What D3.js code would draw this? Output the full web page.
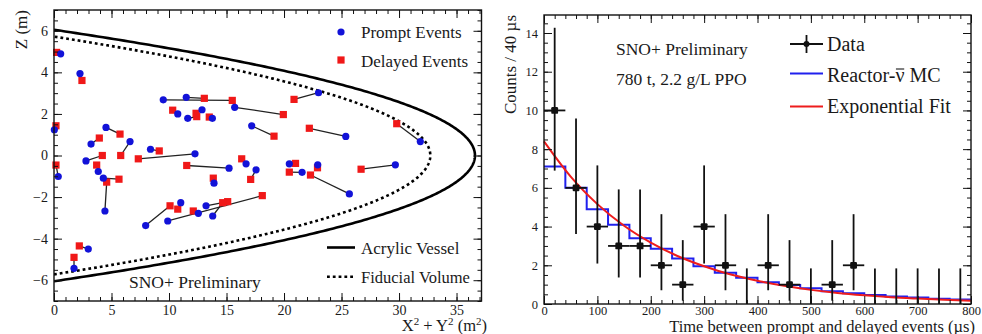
<!DOCTYPE html>
<html><head><meta charset="utf-8">
<script src="https://cdn.jsdelivr.net/npm/d3@7"></script>
<style>
body{margin:0;background:#fff}
text{font-family:"Liberation Serif","Times New Roman",serif;fill:#1a1a1a}
</style>
</head><body>
<svg id="c" width="982" height="334"></svg>
<script>
// ---------- Left panel data: prompt/delayed pairs (rho^2 in m^2, Z in m) ----------
const promptRho2 = [0.58,2.26,0.03,9.50,11.50,10.76,11.63,12.87,13.77,15.71,17.19,23.00,25.37,31.85,16.70,17.57,20.46,21.57,22.93,25.68,29.68,0.37,2.78,3.85,4.29,4.43,6.61,12.26,8.39,15.22,7.97,11.02,9.89,12.55,13.22,13.80,13.91,1.74,2.98,3.22,4.52];
const promptZ    = [4.89,3.94,1.24,2.68,2.80,2.00,1.79,2.20,1.79,2.32,1.43,3.02,0.92,0.67,-0.40,-0.69,-0.40,-0.81,-0.45,-1.85,-0.45,-1.01,-0.26,-0.77,-1.09,-2.67,0.67,0.08,0.30,-0.61,-3.37,-2.27,-3.15,-2.78,-2.42,-2.91,-1.33,-5.43,-4.50,0.55,1.35];
const delayedRho2= [0.23,2.43,0.17,15.50,13.07,10.32,12.41,12.35,13.50,19.94,19.13,20.87,22.20,29.80,16.32,17.10,21.00,20.46,22.91,22.30,26.70,0.17,4.20,3.71,5.65,4.58,5.80,7.33,9.15,11.54,10.09,10.76,18.11,12.11,15.10,14.67,13.85,1.74,2.20,3.94,5.74];
const delayedZ   = [4.96,3.61,1.43,2.65,2.75,2.18,1.87,2.03,1.85,1.97,0.93,2.70,1.31,1.53,-0.16,-1.15,-0.38,-0.80,-0.59,-0.94,-0.66,-0.46,0.00,-0.46,-1.14,-1.28,0.00,-0.16,0.22,-0.48,-2.42,-2.58,-1.93,-2.67,-2.22,-2.27,-1.09,-4.90,-4.35,0.84,1.03];
const vesselRadii = [6.05, 5.72]; // acrylic vessel, fiducial volume (m)
const leftXTicks = [0,5,10,15,20,25,30,35];
const leftYTicks = [-6,-4,-2,0,2,4,6];

// ---------- Right panel data ----------
const binCenters = [20,60,100,140,180,220,260,300,340,380,420,460,500,540,580,620,660,700,740,780];
const dataCounts = [10,6,4,3,3,2,1,4,2,0,2,1,0,1,2,0,0,0,0,0];
const dataHigh   = [14.27,9.58,7.16,5.92,5.92,4.64,3.30,7.16,4.64,1.84,4.64,3.30,1.84,3.30,4.64,1.84,1.84,1.84,1.84,1.84];
const dataLow    = [6.89,3.62,2.09,1.37,1.37,0.71,0.17,2.09,0.71,0,0.71,0.17,0,0.17,0.71,0,0,0,0,0];
const mcCounts   = [7.1,6.0,4.9,4.1,3.4,2.85,2.35,1.95,1.62,1.35,1.12,0.98,0.82,0.66,0.56,0.47,0.39,0.33,0.27,0.23];
const fitTimes   = [0,50,100,150,200,250,300,350,400,450,500,550,600,650,700,750,800];
const fitValues  = [8.40,6.58,5.16,4.04,3.17,2.48,1.95,1.52,1.20,0.94,0.73,0.57,0.45,0.35,0.28,0.22,0.17];
const rightXTicks = [0,100,200,300,400,500,600,700,800];
const rightYTicks = [0,2,4,6,8,10,12,14];
const binWidth = 40;

const svg = d3.select("#c");

function frame(g, x, y, xMajor, xMinor, yMajor, yMinor, fs, padX) {
  const [xl, xr] = x.range(); const [yb, yt] = y.range();
  const st = sel => { sel.attr("font-family",null); sel.select(".domain").remove(); sel.selectAll("line").attr("stroke","#111").attr("stroke-width",1); sel.selectAll("text").attr("font-size",fs).attr("fill","#1a1a1a"); };
  g.append("g").attr("transform",`translate(0,${yb})`).call(d3.axisBottom(x).tickValues(xMajor).tickSize(-8).tickPadding(padX).tickFormat(d3.format("d"))).call(st);
  g.append("g").attr("transform",`translate(0,${yb})`).call(d3.axisBottom(x).tickValues(xMinor).tickSize(-4).tickFormat("")).call(st);
  g.append("g").attr("transform",`translate(0,${yt})`).call(d3.axisTop(x).tickValues(xMajor).tickSize(-8).tickFormat("")).call(st);
  g.append("g").attr("transform",`translate(0,${yt})`).call(d3.axisTop(x).tickValues(xMinor).tickSize(-4).tickFormat("")).call(st);
  g.append("g").attr("transform",`translate(${xl},0)`).call(d3.axisLeft(y).tickValues(yMajor).tickSize(-8).tickPadding(6).tickFormat(d3.format("d"))).call(st);
  g.append("g").attr("transform",`translate(${xl},0)`).call(d3.axisLeft(y).tickValues(yMinor).tickSize(-4).tickFormat("")).call(st);
  g.append("g").attr("transform",`translate(${xr},0)`).call(d3.axisRight(y).tickValues(yMajor).tickSize(-8).tickFormat("")).call(st);
  g.append("g").attr("transform",`translate(${xr},0)`).call(d3.axisRight(y).tickValues(yMinor).tickSize(-4).tickFormat("")).call(st);
  g.append("rect").attr("x",xl).attr("y",yt).attr("width",xr-xl).attr("height",yb-yt).attr("fill","none").attr("stroke","#111").attr("stroke-width",1.4);
}

// =================== LEFT PANEL ===================
const xL = d3.scaleLinear().domain([0,37.17]).range([54,481.5]);
const yL = d3.scaleLinear().domain([-7,7]).range([301,10]);
const gL = svg.append("g");
svg.append("clipPath").attr("id","clipL").append("rect").attr("x",54).attr("y",10).attr("width",427.5).attr("height",291);

const lineL = d3.line().x(d=>xL(d[0])).y(d=>yL(d[1]));
vesselRadii.forEach((R,i)=>{
  const pts = [];
  const n = 300;
  for (let k=0;k<=n;k++){ const z = -R + 2*R*k/n; pts.push([Math.max(0,R*R-z*z), z]); }
  gL.append("path").attr("clip-path","url(#clipL)").attr("d",lineL(pts)).attr("fill","none")
    .attr("stroke","#000").attr("stroke-width",2.6).attr("stroke-dasharray", i===1 ? "2.8,3" : null);
});

const pairs = promptRho2.map((v,i)=>({px:v,pz:promptZ[i],dx:delayedRho2[i],dz:delayedZ[i]}));
gL.append("g").selectAll("line").data(pairs).join("line")
  .attr("x1",d=>xL(d.px)).attr("y1",d=>yL(d.pz)).attr("x2",d=>xL(d.dx)).attr("y2",d=>yL(d.dz))
  .attr("stroke","#222").attr("stroke-width",1.3);
gL.append("g").selectAll("rect").data(pairs).join("rect")
  .attr("x",d=>xL(d.dx)-3.6).attr("y",d=>yL(d.dz)-3.6).attr("width",7.2).attr("height",7.2).attr("fill","#f01818");
gL.append("g").selectAll("circle").data(pairs).join("circle")
  .attr("cx",d=>xL(d.px)).attr("cy",d=>yL(d.pz)).attr("r",3.6).attr("fill","#1212d8");

frame(gL, xL, yL, leftXTicks, d3.range(0,37.1,1), leftYTicks, d3.range(-7,7.01,0.5), 14, 4);

// legends
gL.append("circle").attr("cx",341).attr("cy",32).attr("r",3.6).attr("fill","#1212d8");
gL.append("text").attr("x",361).attr("y",38).attr("font-size",17).text("Prompt Events");
gL.append("rect").attr("x",337.4).attr("y",56.4).attr("width",7.2).attr("height",7.2).attr("fill","#f01818");
gL.append("text").attr("x",361).attr("y",67).attr("font-size",17).text("Delayed Events");
gL.append("line").attr("x1",327).attr("x2",355).attr("y1",247.5).attr("y2",247.5).attr("stroke","#000").attr("stroke-width",2.6);
gL.append("text").attr("x",361).attr("y",254).attr("font-size",17).text("Acrylic Vessel");
gL.append("line").attr("x1",327).attr("x2",355).attr("y1",276.7).attr("y2",276.7).attr("stroke","#000").attr("stroke-width",2.6).attr("stroke-dasharray","2.8,3");
gL.append("text").attr("x",361).attr("y",283).attr("font-size",16.5).text("Fiducial Volume");
gL.append("text").attr("x",129).attr("y",288).attr("font-size",17.5).text("SNO+ Preliminary");

// axis titles
const xt = gL.append("text").attr("x",487).attr("y",331).attr("text-anchor","end").attr("font-size",16.5);
xt.append("tspan").text("X");
xt.append("tspan").attr("dy",-6).attr("font-size",11).text("2");
xt.append("tspan").attr("dy",6).text(" + Y");
xt.append("tspan").attr("dy",-6).attr("font-size",11).text("2");
xt.append("tspan").attr("dy",6).text(" (m");
xt.append("tspan").attr("dy",-6).attr("font-size",11).text("2");
xt.append("tspan").attr("dy",6).text(")");
gL.append("text").attr("transform","translate(26.5,10) rotate(-90)").attr("text-anchor","end").attr("font-size",17).text("Z (m)");

// =================== RIGHT PANEL ===================
const xR = d3.scaleLinear().domain([0,800]).range([544,971]);
const yR = d3.scaleLinear().domain([0,14.93]).range([304,15]);
const gR = svg.append("g");

// MC histogram (steps)
const mcPts = [];
binCenters.forEach((c,i)=>{ mcPts.push([c-binWidth/2, mcCounts[i]]); mcPts.push([c+binWidth/2, mcCounts[i]]); });
gR.append("path").attr("d", d3.line().x(d=>xR(d[0])).y(d=>yR(d[1]))(mcPts))
  .attr("fill","none").attr("stroke","#2020ee").attr("stroke-width",2);
// exponential fit
gR.append("path").attr("d", d3.line().curve(d3.curveMonotoneX).x((d,i)=>xR(fitTimes[i])).y(d=>yR(d))(fitValues))
  .attr("fill","none").attr("stroke","#ee1c1c").attr("stroke-width",2);

// data
const dat = binCenters.map((c,i)=>({c, n:dataCounts[i], hi:dataHigh[i], lo:dataLow[i]}));
const gD = gR.append("g");
gD.selectAll("line.v").data(dat).join("line").attr("class","v")
  .attr("x1",d=>xR(d.c)).attr("x2",d=>xR(d.c)).attr("y1",d=>yR(d.lo)).attr("y2",d=>yR(d.hi))
  .attr("stroke","#111").attr("stroke-width",1.8);
gD.selectAll("line.h").data(dat.filter(d=>d.n>0)).join("line").attr("class","h")
  .attr("x1",d=>xR(d.c-binWidth/2)).attr("x2",d=>xR(d.c+binWidth/2)).attr("y1",d=>yR(d.n)).attr("y2",d=>yR(d.n))
  .attr("stroke","#111").attr("stroke-width",1.8);
gD.selectAll("rect").data(dat.filter(d=>d.n>0)).join("rect")
  .attr("x",d=>xR(d.c)-3.4).attr("y",d=>yR(d.n)-3.4).attr("width",6.8).attr("height",6.8).attr("rx",1.2).attr("fill","#111");

frame(gR, xR, yR, rightXTicks, d3.range(0,801,20), rightYTicks, d3.range(0,14.9,0.5), 12.5, 2);

// texts
gR.append("text").attr("x",616).attr("y",55).attr("font-size",17.5).text("SNO+ Preliminary");
gR.append("text").attr("x",616).attr("y",85).attr("font-size",17.5).text("780 t, 2.2 g/L PPO");

// legend
gR.append("line").attr("x1",790).attr("x2",823).attr("y1",44).attr("y2",44).attr("stroke","#111").attr("stroke-width",1.8);
gR.append("line").attr("x1",806.5).attr("x2",806.5).attr("y1",35).attr("y2",53).attr("stroke","#111").attr("stroke-width",1.8);
gR.append("circle").attr("cx",806.5).attr("cy",44).attr("r",3).attr("fill","#111");
gR.append("text").attr("x",827).attr("y",51).attr("font-size",20).text("Data");
gR.append("line").attr("x1",790).attr("x2",823).attr("y1",73.5).attr("y2",73.5).attr("stroke","#2020ee").attr("stroke-width",2);
const rt = gR.append("text").attr("x",827).attr("y",82).attr("font-size",20).text("Reactor-ν MC");
gR.append("line").attr("x1",790).attr("x2",823).attr("y1",106.5).attr("y2",106.5).attr("stroke","#ee1c1c").attr("stroke-width",2);
gR.append("text").attr("x",827).attr("y",113).attr("font-size",20).text("Exponential Fit");
// overline on nu
try {
  const tn = rt.node();
  const s = tn.getStartPositionOfChar(8).x, e = tn.getEndPositionOfChar(8).x;
  gR.append("line").attr("x1",s+0.5).attr("x2",e-0.3).attr("y1",82-13).attr("y2",82-13).attr("stroke","#1a1a1a").attr("stroke-width",1.1);
} catch(err) {}

gR.append("text").attr("x",975).attr("y",331.5).attr("text-anchor","end").attr("font-size",16.5).text("Time between prompt and delayed events (µs)");
gR.append("text").attr("transform","translate(516,15) rotate(-90)").attr("text-anchor","end").attr("font-size",17).text("Counts / 40 µs");
</script>
</body></html>
